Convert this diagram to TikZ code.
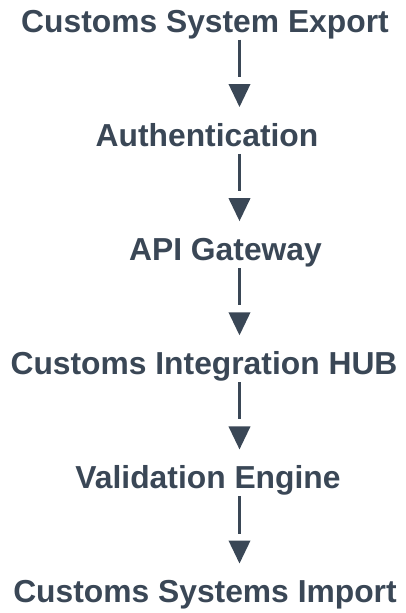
\documentclass[tikz,border=0pt]{standalone}
\usepackage{fontspec}
\setmainfont{Liberation Sans}
\usetikzlibrary{arrows.meta,decorations.markings}

\definecolor{slate}{HTML}{3A4756}

\tikzset{
    stage/.style={font=\fontsize{31.8}{36}\selectfont\bfseries, text=slate,
        inner sep=0pt, text height=22pt, text depth=7pt, anchor=base},
    flow/.style={color=slate, line width=2.2pt, shorten <=0.5pt, shorten >=47pt,
        decoration={markings,
            mark=at position -17pt with {\arrow{Triangle[width=21.5pt,length=23pt]}}},
        postaction={decorate}}
}

\begin{document}
\begin{tikzpicture}[x=1pt,y=1pt]
    % Page frame
    \useasboundingbox (0,0) rectangle (405,-613);

    % Stages of the customs flow
    \node[stage] (export) at (205,-32) {Customs System Export};
    \node[stage] (auth) at (207,-146.2) {Authentication};
    \node[stage] (gateway) at (225.5,-260.3) {API Gateway};
    \node[stage] (hub) at (204,-374.5) {Customs Integration HUB};
    \node[stage] (valid) at (208,-488.6) {Validation Engine};
    \node[stage] (import) at (205,-602.7) {Customs Systems Import};

    % Column of the arrows
    \coordinate (ax) at (239.5,0);

    % Arrows between the stages
    \draw[flow] (export.south -| ax) -- (auth.north -| ax);
    \draw[flow] (auth.south -| ax) -- (gateway.north -| ax);
    \draw[flow] (gateway.south -| ax) -- (hub.north -| ax);
    \draw[flow] (hub.south -| ax) -- (valid.north -| ax);
    \draw[flow] (valid.south -| ax) -- (import.north -| ax);
\end{tikzpicture}
\end{document}
